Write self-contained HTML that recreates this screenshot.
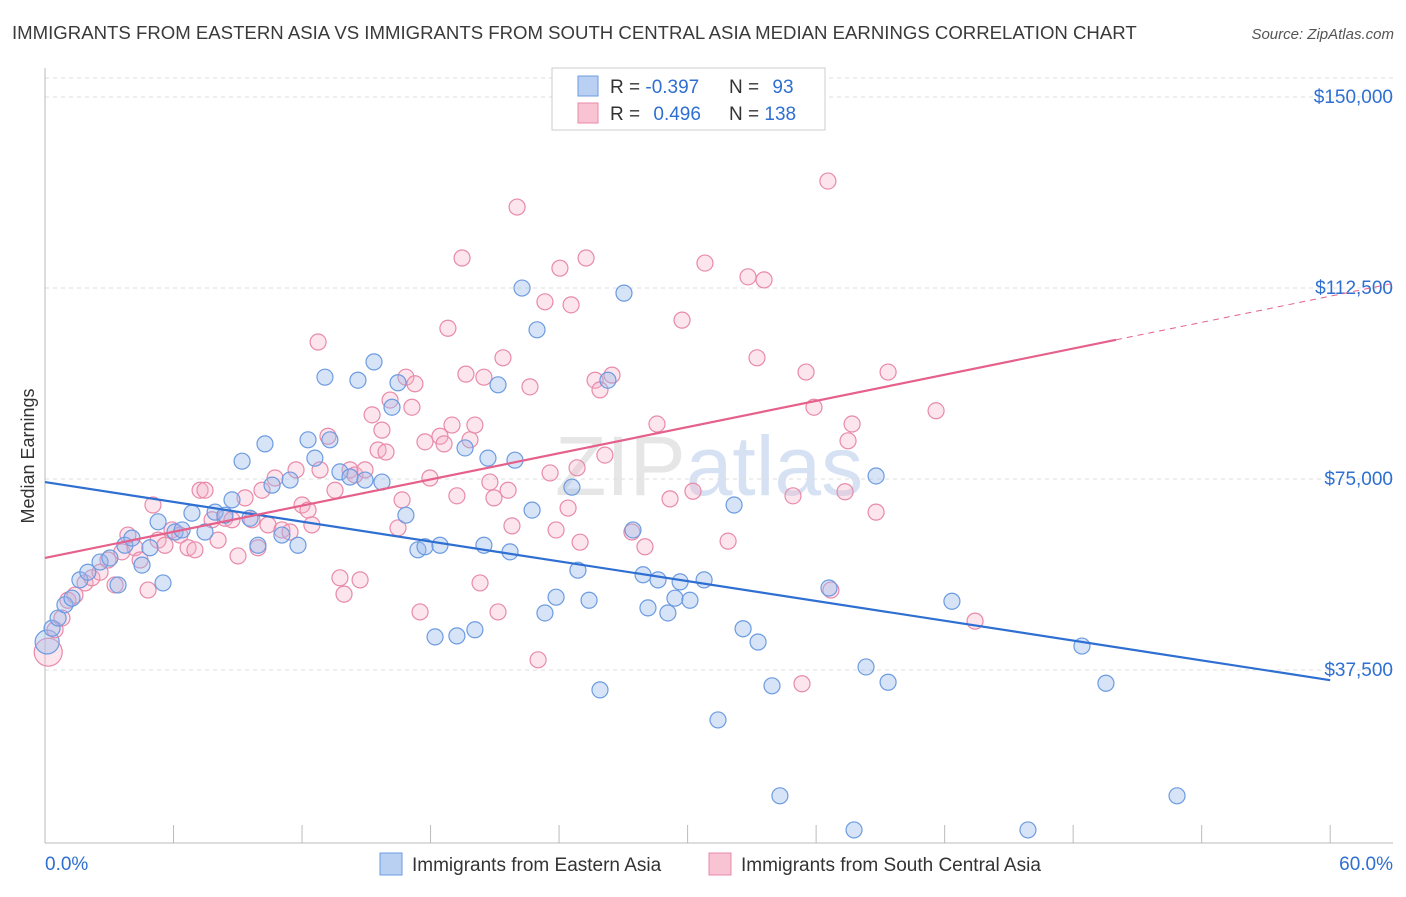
<!DOCTYPE html>
<html><head><meta charset="utf-8"><style>
body{margin:0;background:#fff;font-family:"Liberation Sans",sans-serif;}
svg text{font-family:"Liberation Sans",sans-serif;}
</style></head><body>
<svg id="chart" width="1406" height="892" xmlns="http://www.w3.org/2000/svg">
<text x="12" y="39" font-size="18.6" fill="#3a3a3a">IMMIGRANTS FROM EASTERN ASIA VS IMMIGRANTS FROM SOUTH CENTRAL ASIA MEDIAN EARNINGS CORRELATION CHART</text>
<text x="1394" y="39" font-size="15" fill="#555" text-anchor="end" font-style="italic">Source: ZipAtlas.com</text>
<text x="555" y="495" font-size="84" fill="#e6e6e6" font-family="Liberation Serif">ZIP<tspan fill="#d6e2f3" font-family="Liberation Sans">atlas</tspan></text>
<g id="grid"></g>
<g id="axes"></g>
<g id="marks"></g>
<g id="lines"></g>
<text transform="translate(34,456) rotate(-90)" font-size="18" fill="#333" text-anchor="middle">Median Earnings</text>
<g>
<rect x="552" y="68" width="273" height="62" fill="#fff" stroke="#ccc"/>
<rect x="578" y="76" width="20" height="20" fill="#b9d0f2" stroke="#6c9be0"/>
<rect x="578" y="103" width="20" height="20" fill="#f8c4d4" stroke="#e88aa8"/>
<text x="610" y="93" font-size="19" fill="#333">R = <tspan fill="#2e6fd1">-0.397</tspan></text>
<text x="729" y="93" font-size="19" fill="#333">N = <tspan fill="#2e6fd1" dx="8">93</tspan></text>
<text x="610" y="120" font-size="19" fill="#333">R = <tspan fill="#2e6fd1" dx="8">0.496</tspan></text>
<text x="729" y="120" font-size="19" fill="#333">N = <tspan fill="#2e6fd1">138</tspan></text>
</g>
<g>
<rect x="380" y="853" width="22" height="22" fill="#b9d0f2" stroke="#6c9be0"/>
<text x="412" y="871" font-size="19" fill="#333">Immigrants from Eastern Asia</text>
</g>
<g>
<rect x="709" y="853" width="22" height="22" fill="#f8c4d4" stroke="#e88aa8"/>
<text x="741" y="871" font-size="19" fill="#333">Immigrants from South Central Asia</text>
</g>
</svg>
<script>
const yTicks=[37500,75000,112500,150000];
const yTickLabels=["$37,500","$75,000","$112,500","$150,000"];
const xTicks=[0,6,12,18,24,30,36,42,48,54,60];
const xEndLabels=["0.0%","60.0%"];
const blueX=[0.33,0.61,0.93,1.26,1.63,2.0,2.57,3.03,3.41,3.73,4.06,4.53,4.9,5.28,5.51,6.07,6.4,6.86,7.47,7.94,8.4,8.73,9.2,9.57,9.94,10.27,10.6,11.06,11.44,11.81,12.28,12.6,13.07,13.3,13.77,14.24,14.61,14.94,15.36,15.73,16.2,16.48,16.85,17.41,17.74,18.21,18.44,19.23,19.61,20.07,20.49,20.68,21.15,21.71,21.94,22.27,22.74,22.97,23.34,23.86,24.6,24.88,25.4,25.91,26.28,27.03,27.45,27.92,28.15,28.62,29.08,29.41,29.65,30.11,30.77,31.42,32.17,32.59,33.29,33.94,34.31,36.6,37.77,38.33,38.8,39.36,42.34,45.89,48.41,49.53,52.85];
const blueY=[45.7,47.7,50.3,51.6,55.2,56.7,58.7,59.5,54.2,62.0,63.4,58.1,61.5,66.6,54.6,64.6,65.0,68.3,64.6,68.5,67.9,70.9,78.5,67.3,62.0,81.9,73.8,64.0,74.8,62.0,82.7,79.1,95.0,82.7,76.4,75.4,94.4,74.8,98.0,74.4,89.1,93.9,67.9,61.1,61.7,44.0,62.0,44.2,81.1,45.4,62.0,79.1,93.5,60.7,78.7,112.5,68.9,104.3,48.7,51.8,73.4,57.1,51.2,33.6,94.4,111.5,65.0,56.2,49.7,55.2,48.7,51.6,54.8,51.2,55.2,27.7,69.9,45.6,43.0,34.4,12.8,53.6,6.1,38.1,75.6,35.1,51.0,6.1,42.2,34.9,12.8];
const pinkX=[0.47,0.79,1.07,1.4,1.87,2.19,2.57,2.94,3.27,3.59,3.87,4.2,4.44,4.81,5.04,5.28,5.6,5.93,6.3,6.68,7.0,7.24,7.47,7.8,8.08,8.4,8.73,9.01,9.34,9.66,9.94,10.13,10.41,10.74,11.06,11.44,11.72,12.0,12.28,12.46,12.84,12.75,13.21,13.54,13.77,13.96,14.24,14.47,14.71,14.94,15.27,15.55,15.73,15.92,16.11,16.48,16.67,16.85,17.13,17.27,17.51,17.74,17.97,18.44,18.63,18.81,19.0,19.23,19.47,19.65,19.84,20.07,20.31,20.49,20.77,20.96,21.15,21.38,21.62,21.8,22.04,22.64,23.02,23.34,23.58,23.86,24.04,24.42,24.56,24.84,24.98,25.26,25.68,25.91,26.14,26.47,27.4,28.01,28.57,29.18,29.74,30.25,30.81,31.89,32.82,33.24,33.57,34.92,35.34,35.53,35.9,36.55,36.69,37.35,37.49,37.68,38.8,39.36,41.6,43.42];
const pinkY=[45.4,47.7,51.2,52.2,54.6,55.6,56.7,59.1,54.2,60.7,64.0,61.5,59.1,53.2,69.9,63.0,62.0,65.0,64.0,61.5,61.1,72.8,72.8,67.0,63.0,67.3,67.0,59.9,71.3,67.0,61.5,72.8,66.0,75.2,65.0,64.6,76.8,69.9,68.9,66.0,76.8,101.9,83.4,72.8,55.6,52.4,76.8,75.8,55.2,76.8,87.6,80.7,84.6,80.3,90.5,65.4,70.9,95.0,89.1,93.7,48.9,82.3,75.2,83.4,81.9,104.6,85.6,71.7,118.4,95.6,82.7,85.6,54.6,95.0,74.4,71.3,48.9,98.8,72.8,65.8,128.4,93.1,39.5,109.8,76.2,65.0,116.4,69.3,109.2,77.2,62.6,118.4,94.4,92.5,79.7,95.4,64.6,61.7,85.8,71.1,106.2,72.6,117.4,62.8,114.7,98.8,114.1,71.7,34.8,96.0,89.1,133.5,53.2,72.5,82.5,85.8,68.5,96.0,88.4,47.1];
const bigBlue=[[0.1,43.0]];
const bigPink=[[0.15,41.0]];
const blueTrend=[74.4,35.5];
const pinkTrend=[59.5,110.9];
const pinkSolidEnd=50;

const NS="http://www.w3.org/2000/svg";
const X=p=>45+p*21.42;
const Y=k=>861-k*5.093;
function mk(tag,attrs,parent){const e=document.createElementNS(NS,tag);for(const a in attrs)e.setAttribute(a,attrs[a]);parent.appendChild(e);return e;}
const grid=document.getElementById('grid'),axes=document.getElementById('axes'),marks=document.getElementById('marks'),lines=document.getElementById('lines');
let g=mk('line',{x1:45,x2:1393,y1:78,y2:78,stroke:'#ddd','stroke-dasharray':'4,4'},grid);


yTicks.forEach((t,i)=>{
 const l=mk('line',{x1:45,x2:1393,y1:Y(t/1000),y2:Y(t/1000),stroke:'#ddd','stroke-dasharray':'4,4'},grid);
 
 
 const tx=mk('text',{x:1393,y:Y(t/1000)+6,'font-size':19,fill:'#2e6fd1','text-anchor':'end'},axes);
 tx.textContent=yTickLabels[i];
 
 
});
let ax=mk('line',{x1:45,x2:45,y1:68,y2:843,stroke:'#bbb'},axes);


ax=mk('line',{x1:45,x2:1393,y1:843,y2:843,stroke:'#bbb'},axes);


xTicks.forEach(t=>{
 const l=mk('line',{x1:X(t),x2:X(t),y1:825,y2:843,stroke:'#bbb'},axes);
 
 
});
let xl=mk('text',{x:45,y:870,'font-size':19,fill:'#2e6fd1'},axes);xl.textContent=xEndLabels[0];


xl=mk('text',{x:1393,y:870,'font-size':19,fill:'#2e6fd1','text-anchor':'end'},axes);xl.textContent=xEndLabels[1];


function dot(x,y,r,blue){
 const c=mk('circle',{cx:X(x),cy:Y(y),r:r,fill:blue?'rgba(150,185,236,0.38)':'rgba(245,175,198,0.32)',stroke:blue?'#6c9be0':'#e88aa8','stroke-width':1.2},marks);
 return c;
}
bigPink.forEach(p=>{const c=dot(p[0],p[1],14,false);
 
 });
bigBlue.forEach(p=>{const c=dot(p[0],p[1],12,true);
 
 });
pinkX.forEach((x,i)=>{const c=dot(x,pinkY[i],8,false);
 
 });
blueX.forEach((x,i)=>{const c=dot(x,blueY[i],8,true);
 
 });
let tl=mk('line',{x1:X(0),y1:Y(blueTrend[0]),x2:X(60),y2:Y(blueTrend[1]),stroke:'#2e6fd1','stroke-width':2.2},lines);


const pAt=p=>pinkTrend[0]+(pinkTrend[1]-pinkTrend[0])*p/60;
tl=mk('line',{x1:X(0),y1:Y(pAt(0)),x2:X(pinkSolidEnd),y2:Y(pAt(pinkSolidEnd)),stroke:'#e5608a','stroke-width':2.2},lines);


tl=mk('line',{x1:X(pinkSolidEnd),y1:Y(pAt(pinkSolidEnd)),x2:1393,y2:Y(pAt((1393-45)/21.42)),stroke:'#e5608a','stroke-width':1,'stroke-dasharray':'6,5'},lines);


</script>
</body></html>
